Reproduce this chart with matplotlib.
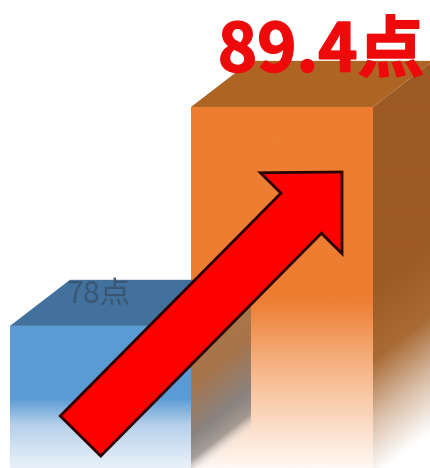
import numpy as np
import matplotlib
matplotlib.use('Agg')
import matplotlib.pyplot as plt
import matplotlib.patheffects as pe
from matplotlib.patches import FancyArrow, Polygon
from matplotlib.colors import to_rgb

plt.rcParams['font.family'] = ['Noto Sans CJK JP', 'DejaVu Sans']

# data
labels = ['78点', '89.4点']
values = [78, 89.4]
bar_left = [10, 191]
bar_width = [181, 182]

# look
DEPTH_X = 60
DEPTH_Y = 2.4
Y_MIN = 70.6
Y_MAX = 94.97
front_col = ['#5b9bd5', '#ed7d31']
top_col = ['#41719c', '#ae6423']
side_col = ['#9c5a24']


def fade(ax, verts, stops, shear=0.0):
    # vertical colour ramp clipped to a polygon, shear tilts it along the depth
    poly = Polygon(verts, closed=True, fc='none', ec='none')
    ax.add_patch(poly)
    xs = [v[0] for v in verts]
    ys = [v[1] for v in verts]
    gx = np.linspace(min(xs), max(xs), 120)
    gy = np.linspace(min(ys), max(ys), 300)
    xx, yy = np.meshgrid(gx, gy)
    t = yy - shear * (xx - min(xs))
    pos = [s[0] for s in stops]
    img = np.zeros(xx.shape + (4,))
    for c in range(3):
        img[..., c] = np.interp(t, pos, [to_rgb(s[1])[c] for s in stops])
    img[..., 3] = np.interp(t, pos, [s[2] for s in stops])
    im = ax.imshow(img, origin='lower', aspect='auto', interpolation='bilinear',
                   extent=(min(xs), max(xs), min(ys), max(ys)))
    im.set_clip_path(poly)


fig = plt.figure(figsize=(4.3, 4.68), dpi=100)
ax = fig.add_axes([0, 0, 1, 1])

# orange bar first, blue side lies over its front
x0, w, v = bar_left[1], bar_width[1], values[1]
fade(ax, [(x0, Y_MIN), (x0 + w, Y_MIN), (x0 + w, v), (x0, v)],
     [(Y_MIN, '#fff8f3', 1), (72.06, '#fce6d6', 1), (74.15, '#f9cba9', 1),
      (76.75, '#f4a670', 1), (79.35, front_col[1], 1), (v, front_col[1], 1)])
fade(ax, [(x0 + w, Y_MIN), (x0 + w + DEPTH_X, Y_MIN),
          (x0 + w + DEPTH_X, v + DEPTH_Y), (x0 + w, v)],
     [(70.1, '#ffffff', 1), (73.1, '#d9bda6', 1), (76.2, '#a96a34', 1),
      (80, side_col[0], 1), (v + DEPTH_Y, side_col[0], 1)], shear=DEPTH_Y / DEPTH_X)
ax.add_patch(Polygon([(x0, v), (x0 + w, v), (x0 + w + DEPTH_X, v + DEPTH_Y),
                      (x0 + DEPTH_X, v + DEPTH_Y)], fc=top_col[1], ec='none'))

# blue bar
x0, w, v = bar_left[0], bar_width[0], values[0]
fade(ax, [(x0, Y_MIN), (x0 + w, Y_MIN), (x0 + w, v), (x0, v)],
     [(Y_MIN, '#e8f1f9', 1), (71.0, '#e0ecf7', 1), (72.84, '#b5d0ea', 1),
      (74.2, front_col[0], 1), (v, front_col[0], 1)])
fade(ax, [(x0 + w, Y_MIN), (x0 + w + DEPTH_X, Y_MIN),
          (x0 + w + DEPTH_X, v + DEPTH_Y), (x0 + w, v)],
     [(70.0, '#ffffff', 0), (71.0, '#8f8a86', 0.8), (72.2, '#8a8380', 1),
      (75.0, '#a8744a', 1), (v + DEPTH_Y, '#b07a45', 1)], shear=DEPTH_Y / DEPTH_X)
ax.add_patch(Polygon([(x0, v), (x0 + w, v), (x0 + w + DEPTH_X, v + DEPTH_Y),
                      (x0 + DEPTH_X, v + DEPTH_Y)], fc=top_col[0], ec='none'))

ax.set_xlim(0, 430)
ax.set_ylim(Y_MIN, Y_MAX)
ax.axis('off')

# overlay in picture pixels for the arrow and the labels
ov = fig.add_axes([0, 0, 1, 1], facecolor='none')
ov.set_xlim(0, 430)
ov.set_ylim(468, 0)
ov.axis('off')
ov.add_patch(FancyArrow(80.5, 436, 261.5, -264, width=57, head_width=115, head_length=58,
                        length_includes_head=True, fc='#ff0000', ec='#2a0000', lw=2))
ov.text(99, 294, labels[0], fontsize=22, color='#3a5672', ha='center', va='center')
ov.text(321, 52, labels[1], fontsize=48, fontweight='bold', color='#ee0a0a',
        ha='center', va='center',
        path_effects=[pe.withStroke(linewidth=1.2, foreground='#ee0a0a')])

fig.savefig('out.png', dpi=100)
